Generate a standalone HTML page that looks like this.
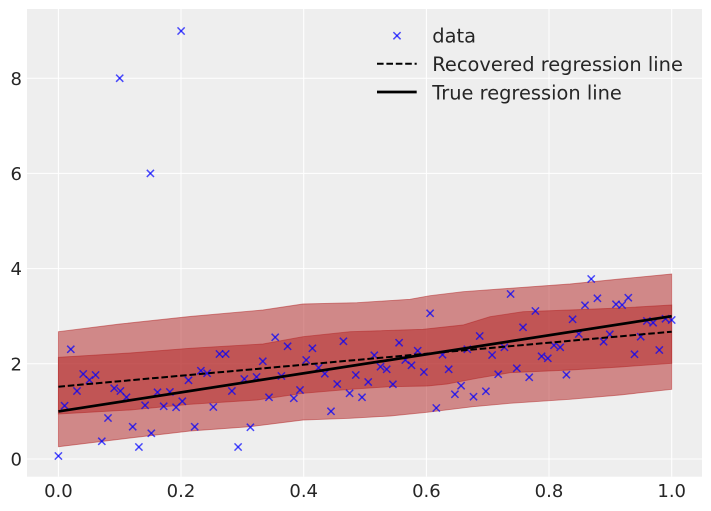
<!DOCTYPE html>
<html><head><meta charset="utf-8"><style>
html,body{margin:0;padding:0;background:#fff;}
svg{display:block;}
text{font-family:"DejaVu Sans","Liberation Sans",sans-serif;fill:#262626;}
</style></head><body>
<svg width="711" height="511" viewBox="0 0 711 511" xmlns="http://www.w3.org/2000/svg">
<defs><g id="m"><path d="M-3.6,-3.6L3.6,3.6"/><path d="M-3.6,3.6L3.6,-3.6"/></g></defs>
<rect x="0" y="0" width="711" height="511" fill="#fff"/>
<rect x="27" y="9" width="675" height="467.7" fill="#eeeeee"/>
<g stroke="#fff" stroke-width="1">
<line x1="58.4" y1="9" x2="58.4" y2="476.7"/>
<line x1="181" y1="9" x2="181" y2="476.7"/>
<line x1="303.7" y1="9" x2="303.7" y2="476.7"/>
<line x1="426.4" y1="9" x2="426.4" y2="476.7"/>
<line x1="549" y1="9" x2="549" y2="476.7"/>
<line x1="671.7" y1="9" x2="671.7" y2="476.7"/>
<line x1="27" y1="459" x2="702" y2="459"/>
<line x1="27" y1="363.8" x2="702" y2="363.8"/>
<line x1="27" y1="268.6" x2="702" y2="268.6"/>
<line x1="27" y1="173.4" x2="702" y2="173.4"/>
<line x1="27" y1="78.2" x2="702" y2="78.2"/>
</g>
<polygon fill="#b22222" fill-opacity="0.5" stroke="#b22222" stroke-opacity="0.5" stroke-width="0.9"
points="58.4,331.7 120,324 190,316.5 263,310 303,304 357,302.7 410,299.3 430,295.7 463,291.7 510,288.3 570,284 620,279 671.7,274 671.7,389.3 620,395 570,399.3 510,403.3 473,406.7 427,412.3 390,416 350,418.3 303,420 250,426.7 190,431 130,438 58.4,446.7"/>
<polygon fill="#b22222" fill-opacity="0.5" stroke="#b22222" stroke-opacity="0.5" stroke-width="0.9"
points="58.4,357.3 130,353 190,348.3 263,344 303,336.7 350,331.7 423,329.3 463,325 490,316.7 523,311.7 570,310 620,308 671.7,305 671.7,363.3 620,367 570,370 510,372.7 477,378.3 447,384 427,386 390,386.7 350,389.3 303,393.3 257,400 190,404.3 130,410 58.4,414"/>
<g stroke="#0000ff" stroke-opacity="0.7" stroke-width="1.5" fill="none">
<use href="#m" x="58.4" y="456"/><use href="#m" x="64.6" y="405.7"/><use href="#m" x="70.8" y="349.3"/><use href="#m" x="77" y="391"/><use href="#m" x="83.2" y="374"/>
<use href="#m" x="89.4" y="380"/><use href="#m" x="95.6" y="375"/><use href="#m" x="101.8" y="441.3"/><use href="#m" x="108" y="418"/><use href="#m" x="114.2" y="388.3"/>
<use href="#m" x="120.4" y="391"/><use href="#m" x="126.5" y="397.3"/><use href="#m" x="132.7" y="426.7"/><use href="#m" x="138.9" y="447"/><use href="#m" x="145.1" y="405.3"/>
<use href="#m" x="151.3" y="433.3"/><use href="#m" x="157.5" y="392.3"/><use href="#m" x="163.7" y="406.3"/><use href="#m" x="169.9" y="392"/><use href="#m" x="176.1" y="407.3"/>
<use href="#m" x="182.3" y="401.3"/><use href="#m" x="188.5" y="380.3"/><use href="#m" x="194.7" y="426.7"/><use href="#m" x="200.9" y="370.7"/><use href="#m" x="207.1" y="373.3"/>
<use href="#m" x="213.3" y="407"/><use href="#m" x="219.5" y="354"/><use href="#m" x="225.7" y="354"/><use href="#m" x="231.9" y="391"/><use href="#m" x="238.1" y="447"/>
<use href="#m" x="244.3" y="379"/><use href="#m" x="250.4" y="427.3"/><use href="#m" x="256.6" y="377"/><use href="#m" x="262.8" y="361.3"/><use href="#m" x="269" y="397.3"/>
<use href="#m" x="275.2" y="337.3"/><use href="#m" x="281.4" y="376"/><use href="#m" x="287.6" y="346.3"/><use href="#m" x="293.8" y="398.3"/><use href="#m" x="300" y="390"/>
<use href="#m" x="306.2" y="360"/><use href="#m" x="312.4" y="348.3"/><use href="#m" x="318.6" y="367.7"/><use href="#m" x="324.8" y="373.7"/><use href="#m" x="331" y="411.3"/>
<use href="#m" x="337.2" y="384"/><use href="#m" x="343.4" y="341.3"/><use href="#m" x="349.6" y="393.3"/><use href="#m" x="355.8" y="375"/><use href="#m" x="362" y="397.3"/>
<use href="#m" x="368.2" y="382"/><use href="#m" x="374.3" y="355.3"/><use href="#m" x="380.5" y="366.7"/><use href="#m" x="386.7" y="369.3"/><use href="#m" x="392.9" y="384.3"/>
<use href="#m" x="399.1" y="342.7"/><use href="#m" x="405.3" y="360"/><use href="#m" x="411.5" y="365.3"/><use href="#m" x="417.7" y="350.7"/><use href="#m" x="423.9" y="372"/>
<use href="#m" x="430.1" y="313.3"/><use href="#m" x="436.3" y="408"/><use href="#m" x="442.5" y="354.7"/><use href="#m" x="448.7" y="369.3"/><use href="#m" x="454.9" y="394.3"/>
<use href="#m" x="461.1" y="385.7"/><use href="#m" x="467.3" y="349.3"/><use href="#m" x="473.5" y="396.7"/><use href="#m" x="479.7" y="336"/><use href="#m" x="485.9" y="391.3"/>
<use href="#m" x="492.1" y="355"/><use href="#m" x="498.2" y="374.3"/><use href="#m" x="504.4" y="347.3"/><use href="#m" x="510.6" y="294"/><use href="#m" x="516.8" y="368.3"/>
<use href="#m" x="523" y="327.3"/><use href="#m" x="529.2" y="377.3"/><use href="#m" x="535.4" y="311"/><use href="#m" x="541.6" y="356.3"/><use href="#m" x="547.8" y="358.3"/>
<use href="#m" x="554" y="345.3"/><use href="#m" x="560.2" y="347.3"/><use href="#m" x="566.4" y="374.7"/><use href="#m" x="572.6" y="319.3"/><use href="#m" x="578.8" y="334"/>
<use href="#m" x="585" y="305.3"/><use href="#m" x="591.2" y="279"/><use href="#m" x="597.4" y="298.3"/><use href="#m" x="603.6" y="341.7"/><use href="#m" x="609.8" y="334.3"/>
<use href="#m" x="616" y="304.3"/><use href="#m" x="622.1" y="305"/><use href="#m" x="628.3" y="297.7"/><use href="#m" x="634.5" y="354.3"/><use href="#m" x="640.7" y="336.7"/>
<use href="#m" x="646.9" y="321"/><use href="#m" x="653.1" y="322.7"/><use href="#m" x="659.3" y="350"/><use href="#m" x="665.5" y="318.7"/><use href="#m" x="671.7" y="320"/>
<use href="#m" x="119.7" y="78.2"/><use href="#m" x="150.4" y="173.4"/><use href="#m" x="181.1" y="31"/>
</g>
<line x1="58.4" y1="386.7" x2="671.7" y2="331.7" stroke="#000" stroke-width="2" stroke-dasharray="6.6 2.8"/>
<line x1="58.4" y1="411.4" x2="671.7" y2="316.2" stroke="#000" stroke-width="2.7"/>
<g font-size="18" text-anchor="middle">
<text x="58.4" y="497">0.0</text>
<text x="181" y="497">0.2</text>
<text x="303.7" y="497">0.4</text>
<text x="426.4" y="497">0.6</text>
<text x="549" y="497">0.8</text>
<text x="671.7" y="497">1.0</text>
</g>
<g font-size="18" text-anchor="end">
<text x="22" y="465.6">0</text>
<text x="22" y="370.4">2</text>
<text x="22" y="275.2">4</text>
<text x="22" y="180">6</text>
<text x="22" y="84.8">8</text>
</g>
<g stroke="#0000ff" stroke-opacity="0.7" stroke-width="1.5" fill="none"><use href="#m" x="397" y="35.7"/></g>
<line x1="377" y1="63.7" x2="416.7" y2="63.7" stroke="#000" stroke-width="2" stroke-dasharray="6.6 2.8"/>
<line x1="377" y1="92" x2="416.7" y2="92" stroke="#000" stroke-width="2.7"/>
<g font-size="19.4">
<text x="432.3" y="42.5">data</text>
<text x="432.3" y="71.2">Recovered regression line</text>
<text x="432.3" y="99.7">True regression line</text>
</g>
</svg>
</body></html>
